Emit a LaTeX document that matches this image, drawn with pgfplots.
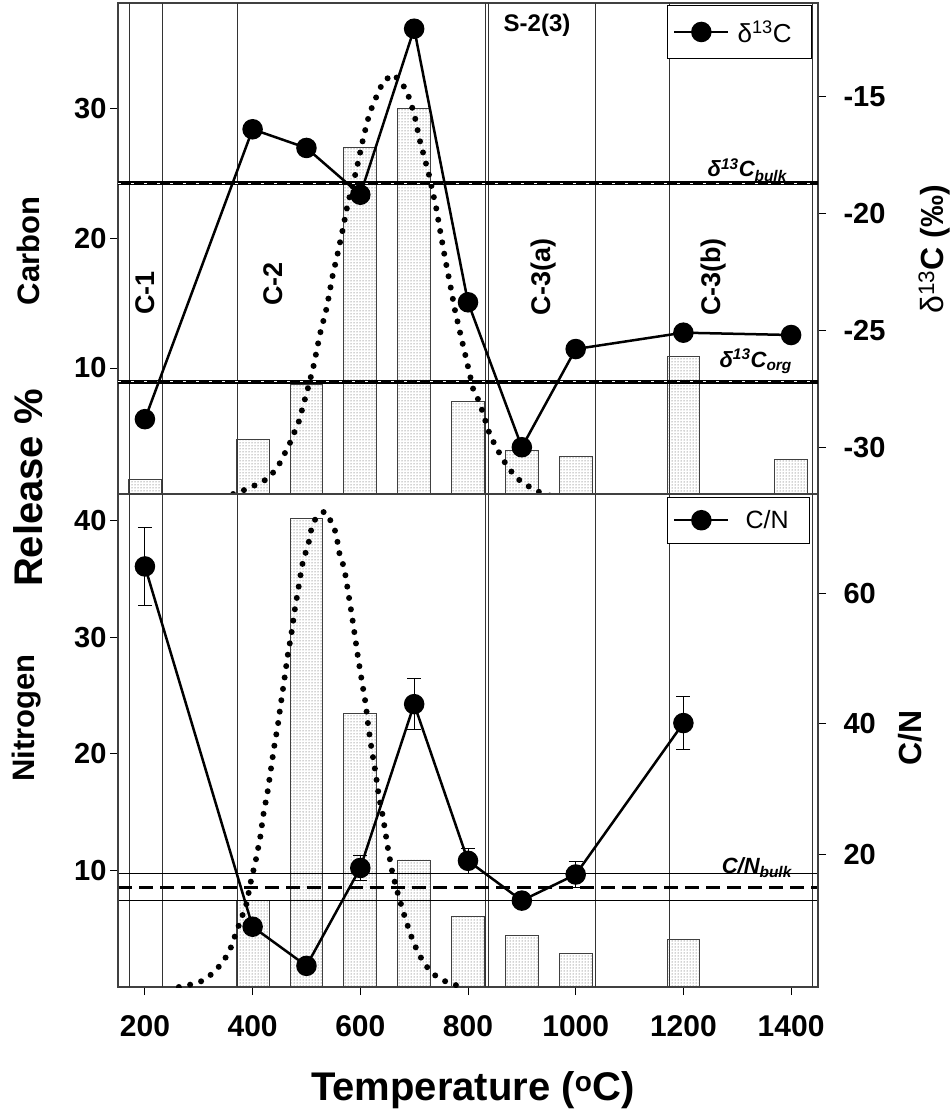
\documentclass[border=0pt]{standalone}
\usepackage{fontspec}
\setmainfont{Liberation Sans}
\usepackage{pgfplots}
\usepackage{pgfplotstable}
\pgfplotsset{compat=1.18}
\usetikzlibrary{patterns}
\newcommand\fs[1]{\fontsize{#1}{#1}\selectfont}

\pgfplotstableread{
T c
200 1.4
400 4.5
500 8.7
600 27.0
700 30.0
800 7.4
900 3.65
1000 3.2
1200 10.9
1400 3.0
}\Cbars
\pgfplotstableread{
T n
400 7.4
500 40.2
600 23.5
700 10.9
800 6.1
900 4.4
1000 2.85
1200 4.1
}\Nbars
\pgfplotstableread{
T d
200 -28.8
400 -16.4
500 -17.2
600 -19.2
700 -12.1
800 -23.8
900 -30.0
1000 -25.8
1200 -25.1
1400 -25.2
}\dC
\pgfplotstableread{
T cn e
200 64.1 6.0
400 8.9 0
500 2.9 0
600 17.9 1.9
700 43.0 3.9
800 19.0 1.9
900 12.9 0
1000 16.9 2.0
1200 40.1 4.0
}\CN
\pgfplotstableread{
T c
343 0.1
364 0.3
384 0.6
406 1.0
429 1.5
447 2.4
468 4.1
486 5.9
505 8.8
514 10.3
525 12.6
538 14.7
548 17.0
559 19.0
568 20.8
576 22.5
585 24.0
592 25.1
606 27.8
617 29.6
630 30.9
643 32.1
662 32.6
678 31.9
689 31.0
696 30.1
702 29.2
710 27.6
728 24.8
741 22.3
749 20.4
758 18.3
767 16.4
776 14.4
786 12.6
795 11.0
810 8.3
821 7.4
828 6.5
841 4.8
864 3.0
879 2.1
897 1.3
920 0.7
940 0.3
970 0.0
}\Ccurve
\pgfplotstableread{
T n
263 0
284 0.2
305 0.5
327 1.2
344 2.1
357 3.05
365 4.1
380 6.0
389 7.2
396 8.9
406 10.9
414 12.8
420 14.8
428 16.8
434 18.7
440 20.6
447 22.5
453 24.5
459 26.4
465 28.4
472 30.3
478 32.3
485 34.2
492 36.2
498 37.2
504 38.1
508 39.1
516 40.1
533 40.8
548 39.8
555 38.9
562 37.0
570 36.0
577 34.0
584 32.0
590 30.1
596 28.2
603 26.2
610 24.3
615 22.3
621 20.4
628 18.5
634 16.5
642 14.6
652 11.7
660 9.7
671 7.8
684 5.8
698 3.9
708 2.9
720 1.9
739 1.0
761 0.4
782 0.1
798 0
}\Ncurve

\pgfplotsset{
  base/.style={
    scale only axis, width=700pt,
    xmin=150, xmax=1450,
    /pgf/number format/assume math mode=true,
    /pgf/number format/1000 sep={},
    axis line style={black!75, line width=1.3pt},
    tick style={black, line width=1pt},
    tick align=outside, major tick length=8pt,
    tick label style={font=\bfseries\fs{29}},
  },
  rightax/.style={hide x axis, ytick pos=right, yticklabel pos=right,
    yticklabel style={anchor=west, xshift=14pt}},
  bars/.style={ybar, bar width=61, draw=black!75, line width=0.8pt,
    pattern=dots, pattern color=black!75},
  dotcurve/.style={black, line width=6pt, line cap=round,
    dash pattern=on 0pt off 11.5pt},
  series/.style={black, line width=2.5pt, mark=*, mark size=9pt,
    mark options={solid, fill=black}},
  legend image code/.code={\draw[mark repeat=2, mark phase=2, #1]
    plot coordinates {(0pt,0pt) (27pt,0pt) (54pt,0pt)};},
}
\newcommand\regionlines{%
  \pgfplotsinvokeforeach{172,233,371,832,838,1037,1174,1439}{%
    \draw[black!80, line width=0.9pt]
      ({axis cs:##1,0}|-{rel axis cs:0,0}) -- ({axis cs:##1,0}|-{rel axis cs:0,1});
  }}

\begin{document}
\begin{tikzpicture}
\path[use as bounding box] (0pt,0pt) rectangle (950pt,-1115pt);

% ---------- top panel, left axis (carbon release) ----------
\begin{axis}[base, at={(118pt,-494pt)}, anchor=south west, height=491pt,
  ymin=0.3, ymax=38.1, ytick={10,20,30}, xtick=\empty, ytick pos=left]
  \regionlines
  \addplot[bars] table[x=T,y=c] {\Cbars};
  \addplot[dotcurve] table[x=T,y=c] {\Ccurve};
\end{axis}

% ---------- top panel, right axis (delta 13C) ----------
\begin{axis}[base, rightax, at={(118pt,-494pt)}, anchor=south west, height=491pt,
  ymin=-32, ymax=-11, ytick={-30,-25,-20,-15},
  legend style={at={(0.9914,0.996)}, anchor=north east, draw=black,
    line width=0.8pt, fill=white, font=\fs{26}, inner xsep=6pt, inner ysep=13pt,
    /tikz/every odd column/.append style={column sep=6pt}}]
  \draw[black, line width=4.5pt] ({rel axis cs:0,0}|-{axis cs:0,-18.7}) -- ({rel axis cs:1,0}|-{axis cs:0,-18.7});
  \draw[white, line width=1pt, dash pattern=on 3pt off 10pt] ({rel axis cs:0,0}|-{axis cs:0,-18.7}) -- ({rel axis cs:1,0}|-{axis cs:0,-18.7});
  \draw[black, line width=4.5pt] ({rel axis cs:0,0}|-{axis cs:0,-27.2}) -- ({rel axis cs:1,0}|-{axis cs:0,-27.2});
  \draw[white, line width=1pt, dash pattern=on 3pt off 10pt] ({rel axis cs:0,0}|-{axis cs:0,-27.2}) -- ({rel axis cs:1,0}|-{axis cs:0,-27.2});
  \addplot[series] table[x=T,y=d] {\dC};
  \addlegendentry{\makebox[66pt][l]{δ\textsuperscript{13}C}}
\end{axis}

% ---------- bottom panel, left axis (nitrogen release) ----------
\begin{axis}[base, at={(118pt,-987pt)}, anchor=south west, height=493pt,
  ymin=0, ymax=42.3, ytick={10,20,30,40}, xtick={200,400,...,1400},
  xtick pos=left, ytick pos=left,
  xticklabel style={font=\bfseries\fs{30}, yshift=-17pt}]
  \regionlines
  \addplot[bars] table[x=T,y=n] {\Nbars};
  \addplot[dotcurve] table[x=T,y=n] {\Ncurve};
  \draw[black, line width=1pt] ({rel axis cs:0,0}|-{axis cs:0,9.7}) -- ({rel axis cs:1,0}|-{axis cs:0,9.7});
  \draw[black, line width=1pt] ({rel axis cs:0,0}|-{axis cs:0,7.4}) -- ({rel axis cs:1,0}|-{axis cs:0,7.4});
  \draw[black, line width=2.8pt, dash pattern=on 14pt off 7pt] ({rel axis cs:0,0}|-{axis cs:0,8.55}) -- ({rel axis cs:1,0}|-{axis cs:0,8.55});
\end{axis}

% ---------- bottom panel, right axis (C/N) ----------
\begin{axis}[base, rightax, at={(118pt,-987pt)}, anchor=south west, height=493pt,
  ymin=-0.34, ymax=75.2, ytick={20,40,60},
  legend style={at={(0.9886,0.9939)}, anchor=north east, draw=black,
    line width=0.8pt, fill=white, font=\fs{25}, inner xsep=6pt, inner ysep=11pt,
    /tikz/every odd column/.append style={column sep=14pt}}]
  \addplot[series, error bars/.cd, y dir=both, y explicit,
    error bar style={black, line width=1pt, solid},
    error mark options={rotate=90, black, line width=1pt, mark size=7pt}]
    table[x=T, y=cn, y error=e] {\CN};
  \addlegendentry{\makebox[56pt][l]{C/N}}
\end{axis}

% ---------- texts ----------
\node[rotate=90, font=\bfseries\fs{31}] at (28pt,-251pt) {Carbon};
\node[rotate=90, font=\bfseries\fs{40}] at (28pt,-488pt) {Release \%};
\node[rotate=90, font=\bfseries\fs{31}] at (27pt,-718pt) {Nitrogen};
\node[rotate=90, font=\fs{32}] at (934pt,-249pt) {δ\textsuperscript{13}\textbf{C (‰)}};
\node[rotate=90, font=\bfseries\fs{32}] at (910pt,-738pt) {C/N};
\node[font=\bfseries\fs{40}] at (473pt,-1090pt) {Temperature (\textsuperscript{o}C)};
\node[font=\bfseries\fs{24}] at (537pt,-25pt) {S-2(3)};
\node[rotate=90, font=\bfseries\fs{27}] at (145pt,-293pt) {C-1};
\node[rotate=90, font=\bfseries\fs{27}] at (273pt,-284pt) {C-2};
\node[rotate=90, font=\bfseries\fs{27}] at (544pt,-277pt) {C-3(a)};
\node[rotate=90, font=\bfseries\fs{27}] at (714pt,-277pt) {C-3(b)};
\node[anchor=base east, inner sep=0pt, font=\bfseries\itshape\fs{22}] at (787pt,-177pt) {δ\textsuperscript{13}C\textsubscript{bulk}};
\node[anchor=base east, inner sep=0pt, font=\bfseries\itshape\fs{22}] at (792pt,-367pt) {δ\textsuperscript{13}C\textsubscript{org}};
\node[anchor=base east, inner sep=0pt, font=\bfseries\itshape\fs{22}] at (792pt,-873pt) {C/N\textsubscript{bulk}};
\end{tikzpicture}
\end{document}
